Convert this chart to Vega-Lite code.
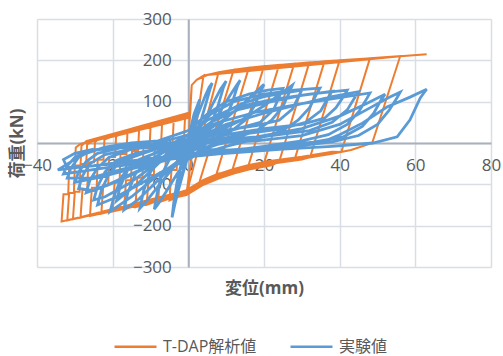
{
"$schema":"https://vega.github.io/schema/vega-lite/v6.json",
"width":454,"height":248,
"autosize":{"type":"none"},
"padding":{"left":37,"top":19,"right":12,"bottom":89},
"background":"white",
"config":{"view":{"stroke":null},"font":"'Open Sans', 'Noto Sans CJK JP', sans-serif"},
"datasets":{
"tdap":[
{"x":0,"y":0},{"x":0.4,"y":60},{"x":0.9,"y":140},{"x":2.2,"y":153},{"x":4,"y":163},
{"x":-0.5,"y":-122},{"x":-5,"y":-139},{"x":-4.45,"y":-65.4},{"x":-3.08,"y":-65.4},{"x":-2.8,"y":8.2},{"x":-1.15,"y":8.2},{"x":-0.88,"y":60.8},{"x":0.5,"y":71.3},{"x":0.9,"y":140},{"x":2.2,"y":153},{"x":4,"y":163},{"x":8,"y":171},
{"x":-0.4,"y":-120},{"x":-8,"y":-144.3},{"x":-7.45,"y":-71.5},{"x":-6.08,"y":-71.5},{"x":-5.8,"y":1.3},{"x":-4.15,"y":1.3},{"x":-3.88,"y":53.3},{"x":-2.5,"y":61.3},{"x":0.4,"y":66},{"x":0.9,"y":140},{"x":2.2,"y":153},{"x":5,"y":164.5},{"x":8,"y":171},{"x":12,"y":177},
{"x":2.7,"y":-102},{"x":-0.5,"y":-116},{"x":-11,"y":-149.7},{"x":-10.46,"y":-77.7},{"x":-9.11,"y":-77.7},{"x":-8.84,"y":-5.7},{"x":-7.22,"y":-5.7},{"x":-6.95,"y":45.7},{"x":-5.6,"y":57.2},{"x":0.4,"y":72},{"x":0.9,"y":140},{"x":2.2,"y":153},{"x":5,"y":164.5},{"x":12,"y":177},{"x":16,"y":182},
{"x":7.15,"y":-83.5},{"x":4,"y":-98},{"x":-0.5,"y":-123},{"x":-14,"y":-155},{"x":-13.47,"y":-83.8},{"x":-12.13,"y":-83.8},{"x":-11.86,"y":-12.6},{"x":-10.26,"y":-12.6},{"x":-9.99,"y":38.2},{"x":-8.65,"y":44.8},{"x":0.4,"y":64},{"x":0.9,"y":140},{"x":2.2,"y":153},{"x":5,"y":164.5},{"x":16,"y":182},{"x":20,"y":186},
{"x":11.5,"y":-69.5},{"x":8,"y":-74},{"x":4,"y":-89},{"x":-0.5,"y":-114},{"x":-17,"y":-160.4},{"x":-16.47,"y":-90},{"x":-15.15,"y":-90},{"x":-14.88,"y":-19.6},{"x":-13.29,"y":-19.6},{"x":-13.03,"y":30.6},{"x":-11.7,"y":40.1},{"x":0.4,"y":69},{"x":0.9,"y":140},{"x":2.2,"y":153},{"x":5,"y":164.5},{"x":20,"y":186},{"x":24,"y":189},
{"x":15.75,"y":-58.5},{"x":12,"y":-73},{"x":8,"y":-85},{"x":4,"y":-100},{"x":-0.5,"y":-125},{"x":-20,"y":-165.8},{"x":-19.48,"y":-96.2},{"x":-18.18,"y":-96.2},{"x":-17.92,"y":-26.6},{"x":-16.36,"y":-26.6},{"x":-16.1,"y":23.2},{"x":-14.8,"y":35.5},{"x":0.4,"y":74},{"x":0.9,"y":140},{"x":2.2,"y":153},{"x":5,"y":164.5},{"x":24,"y":189},{"x":28,"y":192},
{"x":19.9,"y":-51.5},{"x":16,"y":-56},{"x":12,"y":-66},{"x":8,"y":-78},{"x":4,"y":-93},{"x":-0.5,"y":-118},{"x":-23,"y":-171.2},{"x":-22.48,"y":-102.4},{"x":-21.18,"y":-102.4},{"x":-20.92,"y":-33.6},{"x":-19.36,"y":-33.6},{"x":-19.1,"y":15.6},{"x":-17.8,"y":23.6},{"x":0.4,"y":67},{"x":0.9,"y":140},{"x":2.2,"y":153},{"x":5,"y":164.5},{"x":28,"y":192},{"x":32,"y":195},
{"x":24,"y":-45.5},{"x":22,"y":-54},{"x":16,"y":-64},{"x":12,"y":-74},{"x":8,"y":-86},{"x":4,"y":-101},{"x":-0.5,"y":-126},{"x":-26,"y":-176.5},{"x":-25.49,"y":-108.5},{"x":-24.22,"y":-108.5},{"x":-23.96,"y":-40.5},{"x":-22.43,"y":-40.5},{"x":-22.18,"y":8.1},{"x":-20.9,"y":13},{"x":0.4,"y":62},{"x":0.9,"y":140},{"x":2.2,"y":153},{"x":5,"y":164.5},{"x":32,"y":195},{"x":36,"y":197.5},
{"x":28.07,"y":-40.5},{"x":22,"y":-45},{"x":16,"y":-55},{"x":12,"y":-65},{"x":8,"y":-77},{"x":4,"y":-92},{"x":-0.5,"y":-117},{"x":-28.5,"y":-181},{"x":-27.99,"y":-113.7},{"x":-26.72,"y":-113.7},{"x":-26.46,"y":-46.3},{"x":-24.93,"y":-46.3},{"x":-24.68,"y":1.8},{"x":-23.4,"y":12},{"x":0.4,"y":71},{"x":0.9,"y":140},{"x":2.2,"y":153},{"x":5,"y":164.5},{"x":36,"y":197.5},{"x":40,"y":200},
{"x":32.18,"y":-34.6},{"x":30,"y":-40},{"x":22,"y":-50},{"x":16,"y":-60},{"x":12,"y":-70},{"x":8,"y":-82},{"x":4,"y":-97},{"x":-0.5,"y":-122},{"x":-30.5,"y":-184.6},{"x":-30,"y":-117.8},{"x":-28.75,"y":-117.8},{"x":-28.5,"y":-51},{"x":-27,"y":-51},{"x":-26.75,"y":-3.2},{"x":-25.5,"y":3.3},{"x":0.4,"y":65},{"x":0.9,"y":140},{"x":2.2,"y":153},{"x":5,"y":164.5},{"x":40,"y":200},{"x":48,"y":205},
{"x":40.45,"y":-21.5},{"x":38,"y":-21},{"x":30,"y":-33},{"x":22,"y":-43},{"x":16,"y":-53},{"x":12,"y":-63},{"x":8,"y":-75},{"x":4,"y":-90},{"x":-0.5,"y":-115},{"x":-32,"y":-187.3},{"x":-31.5,"y":-120.9},{"x":-30.25,"y":-120.9},{"x":-30,"y":-54.4},{"x":-28.5,"y":-54.4},{"x":-28.25,"y":-7},{"x":-27,"y":4.3},{"x":0.4,"y":73},{"x":0.9,"y":140},{"x":2.2,"y":153},{"x":5,"y":164.5},{"x":48,"y":205},{"x":56,"y":210},
{"x":48.6,"y":0},{"x":43,"y":-17},{"x":38,"y":-26},{"x":30,"y":-38},{"x":22,"y":-48},{"x":16,"y":-58},{"x":12,"y":-68},{"x":8,"y":-80},{"x":4,"y":-95},{"x":-0.5,"y":-120},{"x":-33.5,"y":-190},{"x":-33,"y":-124},{"x":-31.75,"y":-124},{"x":-31.5,"y":-57.9},{"x":-30,"y":-57.9},{"x":-29.75,"y":-10.7},{"x":-28.5,"y":-2.5},{"x":0.4,"y":68},{"x":0.9,"y":140},{"x":2.2,"y":153},{"x":5,"y":164.5},{"x":56,"y":210},{"x":63,"y":215}
],
"exp":[
{"x":0,"y":0},{"x":0.5,"y":30},{"x":1.5,"y":70},{"x":3,"y":105},{"x":2.6,"y":90},{"x":1.8,"y":50},{"x":0.8,"y":10},{"x":0,"y":-20},{"x":-1.2,"y":-60},{"x":-2.2,"y":-90},{"x":-3,"y":-110},
{"x":-2.5,"y":-80},{"x":-1.8,"y":-45},{"x":-1,"y":-15},{"x":0,"y":15},{"x":1.5,"y":45},{"x":3,"y":80},{"x":4.5,"y":115},{"x":5.5,"y":135},{"x":6.3,"y":145},
{"x":5.8,"y":132},{"x":4.8,"y":100},{"x":3.5,"y":60},{"x":2,"y":25},{"x":0.5,"y":-15},{"x":-1,"y":-60},{"x":-2.5,"y":-110},{"x":-3.6,"y":-150},{"x":-4.3,"y":-180},
{"x":-3.8,"y":-140},{"x":-3,"y":-95},{"x":-2,"y":-55},{"x":-0.5,"y":-20},{"x":1.5,"y":15},{"x":4,"y":50},{"x":6.5,"y":95},{"x":8.5,"y":130},{"x":10,"y":150},
{"x":9.3,"y":135},{"x":8,"y":95},{"x":6.5,"y":55},{"x":4.5,"y":20},{"x":2,"y":-10},{"x":0,"y":-35},{"x":-3,"y":-75},{"x":-6,"y":-120},{"x":-8,"y":-148},{"x":-9,"y":-160},
{"x":-8.2,"y":-120},{"x":-7,"y":-75},{"x":-5,"y":-40},{"x":-2,"y":-15},{"x":1,"y":10},{"x":4.5,"y":35},{"x":8,"y":70},{"x":11,"y":115},{"x":12.8,"y":140},{"x":13.7,"y":152},
{"x":13,"y":138},{"x":11.5,"y":95},{"x":9.5,"y":55},{"x":6.5,"y":25},{"x":3,"y":0},{"x":0,"y":-25},{"x":-4,"y":-60},{"x":-8,"y":-105},{"x":-11,"y":-140},{"x":-12.8,"y":-158},
{"x":-11.8,"y":-115},{"x":-10,"y":-70},{"x":-7.5,"y":-40},{"x":-4,"y":-15},{"x":0,"y":5},{"x":5,"y":30},{"x":10,"y":60},{"x":14.5,"y":95},{"x":18,"y":125},{"x":20,"y":142},
{"x":19.3,"y":128},{"x":17.5,"y":90},{"x":15,"y":55},{"x":11.5,"y":30},{"x":7,"y":10},{"x":2,"y":-15},{"x":-3,"y":-45},{"x":-8,"y":-90},{"x":-13,"y":-135},{"x":-17,"y":-162},
{"x":-16,"y":-120},{"x":-14,"y":-75},{"x":-11,"y":-45},{"x":-6,"y":-20},{"x":0,"y":0},{"x":7,"y":25},{"x":14,"y":55},{"x":20,"y":90},{"x":24.5,"y":120},{"x":27.5,"y":140},
{"x":26.8,"y":125},{"x":25,"y":88},{"x":22,"y":55},{"x":18,"y":30},{"x":12,"y":10},{"x":5,"y":-12},{"x":-2,"y":-40},{"x":-9,"y":-85},{"x":-15,"y":-130},{"x":-20.7,"y":-166},
{"x":-19.5,"y":-125},{"x":-17.5,"y":-80},{"x":-14.5,"y":-50},{"x":-9,"y":-25},{"x":-3,"y":0},{"x":2,"y":35},{"x":6,"y":70},{"x":12,"y":100},{"x":20,"y":118},{"x":28,"y":128},{"x":34.8,"y":133},
{"x":34,"y":120},{"x":32,"y":85},{"x":29,"y":55},{"x":25,"y":30},{"x":18,"y":10},{"x":10,"y":-8},{"x":2,"y":-30},{"x":-6,"y":-65},{"x":-14,"y":-105},{"x":-20,"y":-135},{"x":-24,"y":-150},
{"x":-23,"y":-115},{"x":-21,"y":-75},{"x":-18,"y":-45},{"x":-12,"y":-25},{"x":-5,"y":-5},{"x":0,"y":20},{"x":5,"y":55},{"x":12,"y":85},{"x":22,"y":105},{"x":32,"y":118},{"x":42,"y":128},
{"x":41.2,"y":115},{"x":39,"y":85},{"x":36,"y":60},{"x":30,"y":45},{"x":20,"y":35},{"x":10,"y":20},{"x":2,"y":0},{"x":-5,"y":-30},{"x":-14,"y":-70},{"x":-21,"y":-100},{"x":-27,"y":-120},
{"x":-26,"y":-90},{"x":-24,"y":-60},{"x":-21,"y":-35},{"x":-15,"y":-15},{"x":-8,"y":0},{"x":0,"y":20},{"x":8,"y":50},{"x":18,"y":75},{"x":30,"y":95},{"x":40,"y":110},{"x":48,"y":121},
{"x":47.2,"y":108},{"x":45,"y":75},{"x":42,"y":45},{"x":37,"y":20},{"x":30,"y":5},{"x":20,"y":-8},{"x":8,"y":-22},{"x":-4,"y":-38},{"x":-14,"y":-60},{"x":-23,"y":-82},{"x":-30,"y":-95},
{"x":-29,"y":-70},{"x":-27,"y":-45},{"x":-24,"y":-25},{"x":-18,"y":-12},{"x":-8,"y":-5},{"x":5,"y":0},{"x":18,"y":5},{"x":30,"y":18},{"x":40,"y":45},{"x":48,"y":85},{"x":53,"y":110},{"x":56,"y":123},
{"x":55.2,"y":110},{"x":53,"y":78},{"x":50,"y":45},{"x":45,"y":18},{"x":38,"y":3},{"x":28,"y":-8},{"x":15,"y":-20},{"x":2,"y":-32},{"x":-10,"y":-45},{"x":-22,"y":-60},{"x":-33,"y":-75},
{"x":-32,"y":-55},{"x":-30,"y":-35},{"x":-27,"y":-20},{"x":-20,"y":-12},{"x":-8,"y":-10},{"x":0,"y":-15},{"x":16,"y":-18},{"x":30,"y":-6},{"x":34.8,"y":0},{"x":40,"y":20},{"x":46,"y":48},{"x":52.5,"y":87},{"x":58.6,"y":111},{"x":63,"y":130},
{"x":62,"y":118},{"x":61.3,"y":109},{"x":58.6,"y":56},{"x":55.2,"y":15},{"x":48.8,"y":0},{"x":38,"y":-8},{"x":25,"y":-15},{"x":10,"y":-25},{"x":-5,"y":-35},{"x":-18,"y":-48},{"x":-28,"y":-58},{"x":-34.5,"y":-65},
{"x":-31,"y":-45},{"x":-27,"y":-25},{"x":-22,"y":-10},{"x":-15,"y":0},
{"x":-8,"y":5},{"x":0,"y":30},{"x":5,"y":70},{"x":10,"y":100},{"x":16,"y":118},{"x":21,"y":128},{"x":25,"y":132},
{"x":24.3,"y":118},{"x":22.5,"y":80},{"x":19,"y":50},{"x":13,"y":35},{"x":5,"y":15},{"x":-2,"y":-10},{"x":-8,"y":-50},{"x":-13,"y":-95},{"x":-17,"y":-125},{"x":-19,"y":-140},
{"x":-18,"y":-105},{"x":-16,"y":-65},{"x":-13,"y":-40},{"x":-8,"y":-22},{"x":-2,"y":-5},{"x":3,"y":25},{"x":8,"y":65},{"x":14,"y":95},{"x":20,"y":112},{"x":26,"y":122},{"x":30,"y":128},
{"x":29.3,"y":115},{"x":27.5,"y":82},{"x":24,"y":55},{"x":18,"y":42},{"x":9,"y":30},{"x":2,"y":10},{"x":-4,"y":-20},{"x":-10,"y":-60},{"x":-16,"y":-100},{"x":-22,"y":-130},{"x":-25,"y":-138},
{"x":-24,"y":-105},{"x":-22,"y":-70},{"x":-19,"y":-42},{"x":-14,"y":-25},{"x":-6,"y":-10},{"x":0,"y":10},{"x":6,"y":50},{"x":13,"y":80},{"x":22,"y":100},{"x":30,"y":115},{"x":38,"y":125},
{"x":37,"y":110},{"x":35,"y":78},{"x":31,"y":50},{"x":25,"y":35},{"x":15,"y":22},{"x":6,"y":5},{"x":-2,"y":-20},{"x":-10,"y":-55},{"x":-18,"y":-90},{"x":-25,"y":-115},{"x":-29,"y":-110},
{"x":-28,"y":-80},{"x":-26,"y":-50},{"x":-22,"y":-28},{"x":-15,"y":-15},{"x":-6,"y":-5},{"x":3,"y":15},{"x":10,"y":45},{"x":20,"y":72},{"x":30,"y":95},{"x":38,"y":112},{"x":45,"y":124},
{"x":44,"y":110},{"x":42,"y":80},{"x":38,"y":50},{"x":32,"y":30},{"x":22,"y":18},{"x":12,"y":5},{"x":2,"y":-15},{"x":-8,"y":-40},{"x":-18,"y":-65},{"x":-26,"y":-85},{"x":-32,"y":-85},
{"x":-31,"y":-60},{"x":-29,"y":-35},{"x":-26,"y":-18},{"x":-18,"y":-8},{"x":-8,"y":-2},{"x":5,"y":5},{"x":18,"y":15},{"x":30,"y":35},{"x":40,"y":65},{"x":47,"y":95},{"x":52,"y":118},
{"x":51,"y":105},{"x":49,"y":72},{"x":46,"y":40},{"x":41,"y":15},{"x":33,"y":2},{"x":22,"y":-8},{"x":10,"y":-18},{"x":-2,"y":-28},{"x":-14,"y":-42},{"x":-25,"y":-55},{"x":-32,"y":-60},
{"x":-33,"y":-40},{"x":-30,"y":-25},{"x":-25,"y":-15}
]
},
"encoding":{
"x":{"field":"x","type":"quantitative","scale":{"domain":[-40,80],"nice":false,"zero":false},
 "axis":{"orient":"bottom","offset":-124,"values":[-40,-20,0,20,40,60,80],"grid":true,"gridColor":"#D9DEE6","gridWidth":1.5,"domainColor":"#A9B1BE","domainWidth":2,"ticks":false,"tickSize":0,"labelFlush":false,"labelOverlap":false,"labelPadding":14,"labelFontSize":17,"labelColor":"#595959","title":"変位(mm)","titleFontSize":17,"titleFontWeight":"bold","titleColor":"#595959","titleBaseline":"middle","titleY":145,"titleX":227}},
"y":{"field":"y","type":"quantitative","scale":{"domain":[-300,300],"nice":false,"zero":false},
 "axis":{"orient":"left","offset":-151.3,"values":[-300,-200,-100,0,100,200,300],"grid":true,"gridColor":"#D9DEE6","gridWidth":1.5,"domainColor":"#A9B1BE","domainWidth":2,"ticks":false,"tickSize":0,"labelFlush":false,"labelOverlap":false,"labelPadding":17,"labelFontSize":17,"labelColor":"#595959","title":"荷重(kN)","titleFontSize":17,"titleFontWeight":"bold","titleColor":"#595959","titleBaseline":"middle","titleAngle":-90,"titleX":-171,"titleY":124}},
"order":{"value":null}
},
"layer":[
{"data":{"name":"tdap"},"mark":{"type":"line","strokeWidth":2,"clip":true},
 "encoding":{"color":{"datum":"T-DAP解析値","type":"nominal","scale":{"domain":["T-DAP解析値","実験値"],"range":["#ED7D31","#5B9BD5"]},
 "legend":{"orient":"none","direction":"horizontal","legendX":76,"legendY":305,"title":null,"symbolType":"stroke","symbolSize":1764,"symbolStrokeWidth":2.5,"labelFontSize":16,"labelColor":"#595959","labelOffset":5,"columnPadding":28}}}},
{"data":{"name":"exp"},"mark":{"type":"line","strokeWidth":2.8,"clip":true},
 "encoding":{"color":{"datum":"実験値","type":"nominal"}}}
]
}
